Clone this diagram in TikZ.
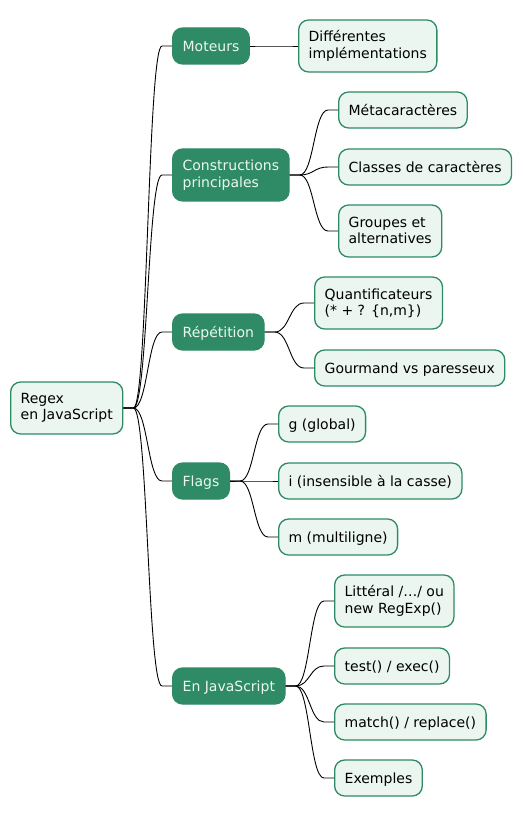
\documentclass[tikz,border=0pt]{standalone}
\usepackage{fontspec}
\setmainfont{DejaVu Sans}
\usetikzlibrary{calc}
\definecolor{dk}{HTML}{2E8B65}
\definecolor{lt}{HTML}{EAF6EF}
\definecolor{lttext}{HTML}{EDF7F1}
\newcommand\lnst{\rule[-1pt]{0pt}{14pt}}
\tikzset{
 base/.style={rounded corners=10pt, line width=1.3pt, anchor=west, inner xsep=10pt, inner ysep=0pt, align=left, font=\fontsize{14}{16.3}\selectfont, minimum height=36pt, execute at begin node=\lnst},
 lvl/.style={base, fill=dk, draw=dk, text=lttext},
 leaf/.style={base, fill=lt, draw=dk, text=black},
 two/.style={minimum height=52pt},
 link/.style={line width=0.9pt, black}
}
\newcommand\conn[2]{\draw[link] let \p1=(#1.east), \p2=(#2.west) in (\p1) -- (\x1+10pt,\y1) .. controls ({(\x1+\x2)/2},\y1) and ({(\x1+\x2)/2},\y2) .. (\x2-10pt,\y2) -- (\p2);}
\begin{document}
\begin{tikzpicture}[x=1pt,y=-1pt]
\useasboundingbox (0,0) rectangle (522,818);
\node[leaf,two] (root) at (10,408) {Regex\\\lnst en JavaScript};
\node[lvl] (m) at (172,46) {Moteurs};
\node[lvl,two] (c) at (172,175) {Constructions\\\lnst principales};
\node[lvl] (r) at (172,332) {Répétition};
\node[lvl] (f) at (172,481) {Flags};
\node[lvl] (j) at (172,686) {En JavaScript};
\node[leaf,two] (m1) at (298,46) {Différentes\\\lnst implémentations};
\node[leaf] (c1) at (338,110) {Métacaractères};
\node[leaf] (c2) at (338,167) {Classes de caractères};
\node[leaf,two] (c3) at (338,231) {Groupes et\\\lnst alternatives};
\node[leaf,two] (r1) at (314,303) {Quantificateurs\\\lnst (* + ? \{n,m\})};
\node[leaf] (r2) at (314,368) {Gourmand vs paresseux};
\node[leaf] (f1) at (278,424) {g (global)};
\node[leaf] (f2) at (278,481) {i (insensible à la casse)};
\node[leaf] (f3) at (278,537) {m (multiligne)};
\node[leaf,two] (j1) at (334,601) {Littéral /…/ ou\\\lnst new RegExp()};
\node[leaf] (j2) at (334,666) {test() / exec()};
\node[leaf] (j3) at (334,722) {match() / replace()};
\node[leaf] (j4) at (334,778) {Exemples};
\conn{root}{m}\conn{root}{c}\conn{root}{r}\conn{root}{f}\conn{root}{j}
\conn{m}{m1}
\conn{c}{c1}\conn{c}{c2}\conn{c}{c3}
\conn{r}{r1}\conn{r}{r2}
\conn{f}{f1}\conn{f}{f2}\conn{f}{f3}
\conn{j}{j1}\conn{j}{j2}\conn{j}{j3}\conn{j}{j4}
\end{tikzpicture}
\end{document}
